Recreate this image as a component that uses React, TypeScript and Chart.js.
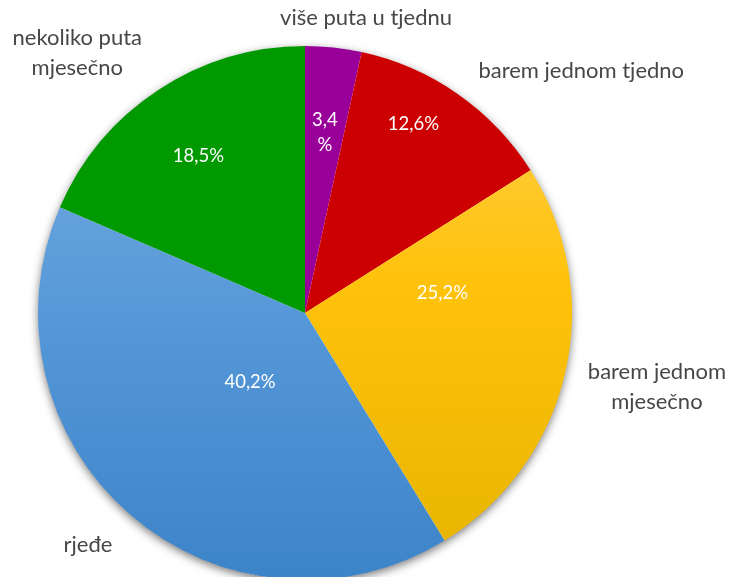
import React, { useEffect, useRef } from "react";
import { Chart, registerables } from "chart.js";

Chart.register(...registerables);

const categories = [
  "više puta u tjednu",
  "barem jednom tjedno",
  "barem jednom mjesečno",
  "rjeđe",
  "nekoliko puta mjesečno",
];
const categoryLines = [
  ["više puta u tjednu"],
  ["barem jednom tjedno"],
  ["barem jednom", "mjesečno"],
  ["rjeđe"],
  ["nekoliko puta", "mjesečno"],
];
const values = [3.4, 12.6, 25.2, 40.2, 18.5];
const pctLines = [["3,4", "%"], ["12,6%"], ["25,2%"], ["40,2%"], ["18,5%"]];

// label layout (angle clockwise from top in degrees, radius fraction)
const pctAngle = [6.3, 29.9, 81.6, 218.6, 325.8];
const pctRad = [0.68, 0.815, 0.52, 0.33, 0.71];
const catAngle = [11.7, 48.8, 101.9, 223.1, 318.8];
const catRad = [1.128, 1.375, 1.347, 1.19, 1.295];

const FONT = "Lato, 'Open Sans', sans-serif";

export default function App() {
  const ref = useRef<HTMLCanvasElement>(null);
  useEffect(() => {
    document.body.style.margin = "0";
    document.body.style.overflow = "hidden";
    const canvas = ref.current!;
    const shadowPlugin = {
      id: "pieShadow",
      beforeDatasetsDraw(chart: any) {
        const arc = chart.getDatasetMeta(0).data[0];
        if (!arc) return;
        const { x, y, outerRadius } = arc;
        const ctx = chart.ctx;
        ctx.save();
        ctx.shadowColor = "rgba(0,0,0,0.55)";
        ctx.shadowBlur = 10;
        ctx.shadowOffsetX = 0;
        ctx.shadowOffsetY = 3;
        ctx.fillStyle = "#ffffff";
        ctx.beginPath();
        ctx.arc(x, y, outerRadius - 0.5, 0, Math.PI * 2);
        ctx.fill();
        ctx.restore();
      },
    };
    const labelPlugin = {
      id: "pieLabels",
      afterDatasetsDraw(chart: any) {
        const arc = chart.getDatasetMeta(0).data[0];
        if (!arc) return;
        const { x, y, outerRadius: r } = arc;
        const ctx = chart.ctx;
        ctx.save();
        ctx.textAlign = "center";
        ctx.textBaseline = "middle";
        const place = (deg: number, f: number) => {
          const a = (deg * Math.PI) / 180;
          return [x + Math.sin(a) * r * f, y - Math.cos(a) * r * f];
        };
        ctx.fillStyle = "#ffffff";
        ctx.font = `18.5px ${FONT}`;
        pctLines.forEach((lines, i) => {
          const [px, py] = place(pctAngle[i], pctRad[i]);
          const lh = 25;
          lines.forEach((t, j) => {
            ctx.fillText(t, px, py + (j - (lines.length - 1) / 2) * lh);
          });
        });
        ctx.fillStyle = "#474747";
        ctx.font = `22px ${FONT}`;
        categoryLines.forEach((lines, i) => {
          const [px, py] = place(catAngle[i], catRad[i]);
          const lh = 30;
          lines.forEach((t, j) => {
            ctx.fillText(t, px, py + (j - (lines.length - 1) / 2) * lh);
          });
        });
        ctx.restore();
      },
    };
    const grad = (ctx: any, stops: [number, string][]) => {
      const chart = ctx.chart;
      const area = chart.chartArea;
      if (!area || !isFinite(area.top) || !isFinite(area.bottom)) return stops[1][1];
      const cy = (area.top + area.bottom) / 2;
      const r = Math.min(area.right - area.left, area.bottom - area.top) / 2;
      if (!isFinite(cy) || !isFinite(r)) return stops[1][1];
      const g = chart.ctx.createLinearGradient(0, cy - r, 0, cy + r);
      stops.forEach(([o, c]) => g.addColorStop(o, c));
      return g;
    };
    const colors = [
      (c: any) => "#990099",
      (c: any) => "#CC0000",
      (c: any) => grad(c, [[0, "#FFD050"], [0.45, "#FFC20A"], [1, "#E6B400"]]),
      (c: any) => grad(c, [[0, "#7BB0E2"], [0.5, "#5698D8"], [1, "#3C84C8"]]),
      (c: any) => "#009900",
    ];
    const chart = new Chart(canvas, {
      type: "pie",
      data: {
        labels: categories,
        datasets: [
          {
            data: values,
            backgroundColor: (c: any) => colors[c.dataIndex](c),
            borderWidth: 0,
          },
        ],
      },
      options: {
        animation: false,
        responsive: false,
        layout: { padding: { left: 38, right: 160, top: 46, bottom: 20 } },
        plugins: {
          legend: { display: false },
          tooltip: { enabled: false },
        },
      },
      plugins: [shadowPlugin, labelPlugin],
    });
    return () => chart.destroy();
  }, []);
  return (
    <div style={{ width: 732, height: 600 }}>
      <canvas ref={ref} width={732} height={600} style={{ display: "block" }} />
    </div>
  );
}
